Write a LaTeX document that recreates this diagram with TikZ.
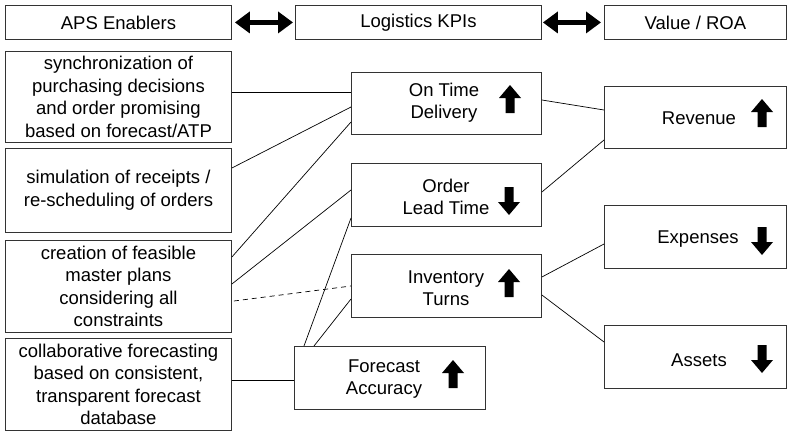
\documentclass[tikz,border=0pt]{standalone}
\usepackage{fontspec}
\setmainfont{Liberation Sans}
\usetikzlibrary{arrows.meta}
\begin{document}
\begin{tikzpicture}[x=1pt,y=-1pt,
  box/.style={draw=black!80, line width=0.9pt, inner sep=0pt, align=center, anchor=north west,
              font=\fontsize{18.5}{22.5}\selectfont},
  txt/.style={inner sep=0pt, align=center, font=\fontsize{18.5}{22}\selectfont},
  link/.style={line width=0.7pt},
  dbl/.style={line width=5.5pt, {Triangle[length=15pt,width=21pt]}-{Triangle[length=15pt,width=21pt]}},
  uparr/.pic={\fill (0,-14) -- (11,-1) -- (4.5,-1) -- (4.5,14) -- (-4.5,14) -- (-4.5,-1) -- (-11,-1) -- cycle;},
  downarr/.pic={\fill (0,14) -- (11,1) -- (4.5,1) -- (4.5,-14) -- (-4.5,-14) -- (-4.5,1) -- (-11,1) -- cycle;}]
\useasboundingbox (0,0) rectangle (788,431);

% headers
\node[box, minimum width=226pt, minimum height=34pt] (aps) at (5,5) {APS Enablers};
\node[box, minimum width=246pt, minimum height=34pt] (log) at (295,5) {Logistics KPIs};
\node[box, minimum width=182pt, minimum height=34pt] (val) at (604,5) {Value / ROA};
\draw[dbl] ([xshift=3pt]aps.east) -- ([xshift=-2pt]log.west);
\draw[dbl] ([xshift=1pt]log.east) -- ([xshift=-3pt]val.west);

% enablers
\node[box, minimum width=226pt, minimum height=91pt] (sync) at (5,51)
  {synchronization of\\purchasing decisions\\and order promising\\based on forecast/ATP};
\node[box, minimum width=226pt, minimum height=84pt] (sim) at (5,148)
  {simulation of receipts /\\re-scheduling of orders};
\node[box, minimum width=226pt, minimum height=92pt] (cre) at (5,240)
  {creation of feasible\\master plans\\considering all\\constraints};
\node[box, minimum width=226pt, minimum height=92pt] (col) at (5,338)
  {collaborative forecasting\\based on consistent,\\transparent forecast\\database};

% KPIs
\node[box, minimum width=190pt, minimum height=62pt] (otd) at (351,72) {};
\node[box, minimum width=190pt, minimum height=63pt] (olt) at (351,163) {};
\node[box, minimum width=190pt, minimum height=63pt] (it) at (351,254) {};
\node[box, minimum width=191pt, minimum height=63pt] (fa) at (294,346) {};
\node[txt] (otdt) at (444,103) {On Time\\Delivery};
\node[txt] (oltt) at (446,197) {Order\\Lead Time};
\node[txt] (itt) at (446,288) {Inventory\\Turns};
\node[txt] (fat) at (384,379) {Forecast\\Accuracy};
\pic at (510,99) {uparr};
\pic at (509,201) {downarr};
\pic at (509,283) {uparr};
\pic at (453,374) {uparr};

% value
\node[box, minimum width=182pt, minimum height=62pt] (rev) at (604,86) {};
\node[box, minimum width=182pt, minimum height=63pt] (exp) at (604,205) {};
\node[box, minimum width=182pt, minimum height=63pt] (ast) at (604,325) {};
\node[txt] (revt) at (699,118) {Revenue};
\node[txt] (expt) at (698,239) {Expenses};
\node[txt] (astt) at (699,360) {Assets};
\pic at (762,113) {uparr};
\pic at (762,241) {downarr};
\pic at (762,359) {downarr};

% connectors
\draw[link] (sync.east |- 0,92) -- (otd.west |- 0,92);
\draw[link] (sim.east |- 0,168) -- (otd.west |- 0,107);
\draw[link] (cre.east |- 0,257) -- (otd.west |- 0,122);
\draw[link] (cre.east |- 0,284) -- (olt.west |- 0,190);
\draw[link, dash pattern=on 5pt off 4pt] ([xshift=2pt]cre.east |- 0,301) -- (it.west |- 0,286);
\draw[link] (304,0 |- fa.north) -- (olt.west |- 0,218);
\draw[link] (314,0 |- fa.north) -- (it.west |- 0,299);
\draw[link] (col.east |- 0,380) -- (fa.west |- 0,380);
\draw[link] (otd.east |- 0,100) -- (rev.west |- 0,110);
\draw[link] (olt.east |- 0,192) -- (rev.west |- 0,140);
\draw[link] (it.east |- 0,277) -- (exp.west |- 0,244);
\draw[link] (it.east |- 0,295) -- (ast.west |- 0,342);
\end{tikzpicture}
\end{document}
